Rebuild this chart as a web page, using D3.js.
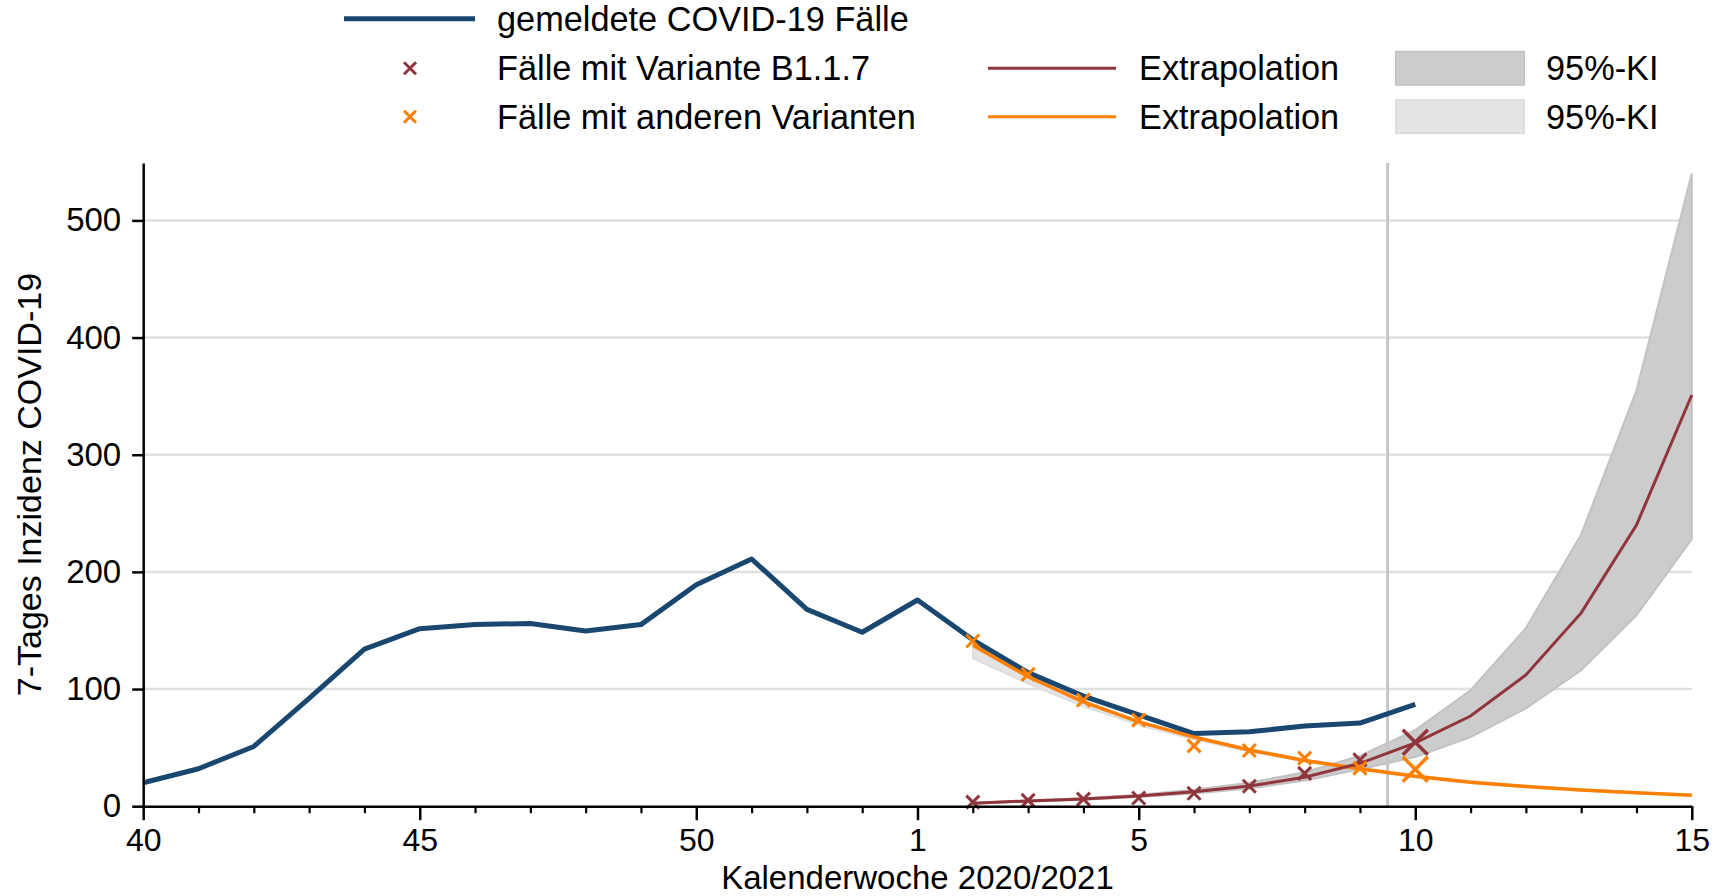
<!DOCTYPE html>
<html>
<head>
<meta charset="utf-8">
<script src="https://cdn.jsdelivr.net/npm/d3@7"></script>
<style>
  body { margin: 0; background: #fff; }
  text { font-family: "Liberation Sans", Arial, sans-serif; fill: #000; }
</style>
</head>
<body>
<svg id="chart" width="1727" height="896"></svg>
<script>
// calendar weeks 2020/2021 (2020 has 53 weeks)
const weeks = [40, 41, 42, 43, 44, 45, 46, 47, 48, 49, 50, 51, 52, 53,
  1, 2, 3, 4, 5, 6, 7, 8, 9, 10, 11, 12, 13, 14, 15]
const weekLabels = [40, 45, 50, 1, 5, 10, 15]
const yTicks = [0, 100, 200, 300, 400, 500]

// reported cases, weeks 40..10
const casesWeeks = [40, 41, 42, 43, 44, 45, 46, 47, 48, 49, 50, 51, 52, 53,
  1, 2, 3, 4, 5, 6, 7, 8, 9, 10]
const cases = [20, 32, 51, 92, 134, 151.5, 155, 156, 149.5, 155, 189, 211, 168, 148.5,
  176, 142, 114, 94, 78, 62, 63.5, 68.5, 71, 87]

// observed variant cases, weeks 2..9 (small markers) + week 10 (big marker)
const obsWeeks = [2, 3, 4, 5, 6, 7, 8, 9]
const b117Obs = [3.5, 5, 6, 7, 11, 17, 28, 39.5]
const otherObs = [141, 112.5, 90.5, 73.5, 51.5, 47.5, 41, 32.5]
const lastWeek = 10
const b117Last = 54.5
const otherLast = 31.5

// extrapolation with 95% CI, weeks 2..15
const extWeeks = [2, 3, 4, 5, 6, 7, 8, 9, 10, 11, 12, 13, 14, 15]
const b117Ext = [2.5, 4.5, 6.1, 8.7, 12.4, 17.2, 24.7, 36.6, 54, 77, 112, 165, 240, 351]
const b117Lo = [2.2, 4, 5.5, 7.8, 10.8, 15, 22, 31.5, 42, 59, 83.5, 116, 163, 228]
const b117Hi = [2.8, 5, 6.8, 9.7, 14, 20, 29, 43, 65, 99, 152, 232, 355, 540]
const otherExt = [137.5, 110.5, 89, 72, 59, 48, 39, 32, 25.5, 20.5, 16.8, 13.8, 11.4, 9.4]
const otherLo = [126, 104.5, 85, 69, 57, 46.5, 38, 31, 24.5, 19.5, 16, 13, 10.8, 8.8]
const otherHi = [139, 112, 90.5, 73, 60, 49, 40, 33, 26.5, 21.5, 17.6, 14.6, 12, 10]

const BLUE = "#1a476f"
const RED = "#90353b"
const ORANGE = "#ff8000"
const DARKBAND = "#cccccc"
const LIGHTBAND = "#e3e3e3"

const svg = d3.select("#chart")

const x = d3.scalePoint().domain(weeks).range([143.2, 1691.8])
const y = d3.scaleLinear().domain([0, 549]).range([806.2, 163])

// gridlines
svg.append("g")
  .selectAll("line")
  .data(yTicks.filter(d => d > 0))
  .join("line")
    .attr("x1", x.range()[0])
    .attr("x2", x.range()[1])
    .attr("y1", d => y(d))
    .attr("y2", d => y(d))
    .attr("stroke", "#e0e0e0")
    .attr("stroke-width", 2.5)

const zip = (ws, lo, hi) => ws.map((w, i) => ({ w: w, lo: lo[i], hi: hi[i] }))

const band = d3.area()
  .x(d => x(d.w))
  .y0(d => y(d.lo))
  .y1(d => y(d.hi))

svg.append("path")
  .datum(zip(extWeeks, otherLo, otherHi))
  .attr("d", band)
  .attr("fill", LIGHTBAND)
  .attr("stroke", "#dddddd")
  .attr("stroke-width", 1.5)

svg.append("path")
  .datum(zip(extWeeks, b117Lo, b117Hi))
  .attr("d", band)
  .attr("fill", DARKBAND)
  .attr("stroke", "#c2c2c2")
  .attr("stroke-width", 2)

// vertical marker between week 9 and 10
const xv = (x(9) + x(10)) / 2
svg.append("line")
  .attr("x1", xv).attr("x2", xv)
  .attr("y1", y(549)).attr("y2", y(0))
  .attr("stroke", "#c6c6c6")
  .attr("stroke-width", 3)

const line = d3.line()
  .x(d => x(d.w))
  .y(d => y(d.v))

const pts = (ws, vs) => ws.map((w, i) => ({ w: w, v: vs[i] }))

svg.append("path")
  .datum(pts(casesWeeks, cases))
  .attr("d", line)
  .attr("fill", "none")
  .attr("stroke", BLUE)
  .attr("stroke-width", 5)
  .attr("stroke-linejoin", "round")

svg.append("path")
  .datum(pts(extWeeks, otherExt))
  .attr("d", line)
  .attr("fill", "none")
  .attr("stroke", ORANGE)
  .attr("stroke-width", 3.5)

svg.append("path")
  .datum(pts(extWeeks, b117Ext))
  .attr("d", line)
  .attr("fill", "none")
  .attr("stroke", RED)
  .attr("stroke-width", 3)

const cross = s => `M${-s},${-s}L${s},${s}M${-s},${s}L${s},${-s}`

function markers(data, color, s, sw) {
  svg.append("g")
    .selectAll("path")
    .data(data)
    .join("path")
      .attr("transform", d => `translate(${x(d.w)},${y(d.v)})`)
      .attr("d", cross(s))
      .attr("stroke", color)
      .attr("stroke-width", sw)
      .attr("fill", "none")
}

markers(pts(obsWeeks, b117Obs), RED, 6.5, 3)
markers(pts(obsWeeks, otherObs), ORANGE, 6.5, 3)
markers([{ w: lastWeek, v: b117Last }], RED, 12.5, 3.5)
markers([{ w: lastWeek, v: otherLast }], ORANGE, 12.5, 3.5)

// axes
const yAxis = svg.append("g")
  .attr("transform", `translate(${x.range()[0]},0)`)
  .call(d3.axisLeft(y).tickValues(yTicks).tickSize(11).tickSizeOuter(0).tickPadding(11))
yAxis.select(".domain").attr("stroke", "#000").attr("stroke-width", 2.5)
yAxis.selectAll(".tick line").attr("stroke", "#000").attr("stroke-width", 2.5)
yAxis.selectAll(".tick text")
  .style("font-family", "'Liberation Sans', Arial, sans-serif")
  .style("font-size", "33px")

const xAxis = svg.append("g")
  .attr("transform", `translate(0,${y(0)})`)
  .call(d3.axisBottom(x)
    .tickValues(weeks)
    .tickSize(7)
    .tickSizeOuter(0)
    .tickPadding(15)
    .tickFormat(d => weekLabels.includes(d) ? d : ""))
xAxis.select(".domain").attr("stroke", "#000").attr("stroke-width", 2.5)
xAxis.selectAll(".tick line").attr("stroke", "#000").attr("stroke-width", 2.2)
xAxis.selectAll(".tick")
  .filter(d => weekLabels.includes(d))
  .select("line")
    .attr("y2", 14)
    .attr("stroke-width", 2.5)
xAxis.selectAll(".tick text")
  .style("font-family", "'Liberation Sans', Arial, sans-serif")
  .style("font-size", "32px")

// axis titles
svg.append("text")
  .attr("x", (x.range()[0] + x.range()[1]) / 2)
  .attr("y", 888.5)
  .attr("text-anchor", "middle")
  .style("font-size", "33px")
  .text("Kalenderwoche 2020/2021")

svg.append("text")
  .attr("transform", `translate(41,${(y(0) + y(549)) / 2}) rotate(-90)`)
  .attr("text-anchor", "middle")
  .style("font-size", "34px")
  .text("7-Tages Inzidenz COVID-19")

// legend
const legend = svg.append("g").style("font-size", "34.3px")
const rows = [18.7, 68.3, 116.7]

legend.append("line")
  .attr("x1", 344).attr("x2", 475)
  .attr("y1", rows[0]).attr("y2", rows[0])
  .attr("stroke", BLUE).attr("stroke-width", 5)
legend.append("text").attr("x", 497).attr("y", rows[0] + 12).text("gemeldete COVID-19 Fälle")

legend.append("path")
  .attr("transform", `translate(410,${rows[1]})`)
  .attr("d", cross(6)).attr("stroke", RED).attr("stroke-width", 3)
legend.append("text").attr("x", 497).attr("y", rows[1] + 12).text("Fälle mit Variante B1.1.7")

legend.append("path")
  .attr("transform", `translate(410,${rows[2]})`)
  .attr("d", cross(6)).attr("stroke", ORANGE).attr("stroke-width", 3)
legend.append("text").attr("x", 497).attr("y", rows[2] + 12).text("Fälle mit anderen Varianten")

const extRows = [
  { yy: rows[1], color: RED, fill: DARKBAND, stroke: "#c2c2c2" },
  { yy: rows[2], color: ORANGE, fill: LIGHTBAND, stroke: "#dddddd" }
]
extRows.forEach(r => {
  legend.append("line")
    .attr("x1", 988).attr("x2", 1116)
    .attr("y1", r.yy).attr("y2", r.yy)
    .attr("stroke", r.color).attr("stroke-width", 3)
  legend.append("text").attr("x", 1139).attr("y", r.yy + 12).text("Extrapolation")
  legend.append("rect")
    .attr("x", 1396).attr("y", r.yy - 16.5)
    .attr("width", 128).attr("height", 33)
    .attr("fill", r.fill).attr("stroke", r.stroke).attr("stroke-width", 2)
  legend.append("text").attr("x", 1546).attr("y", r.yy + 12).text("95%-KI")
})
</script>
</body>
</html>
